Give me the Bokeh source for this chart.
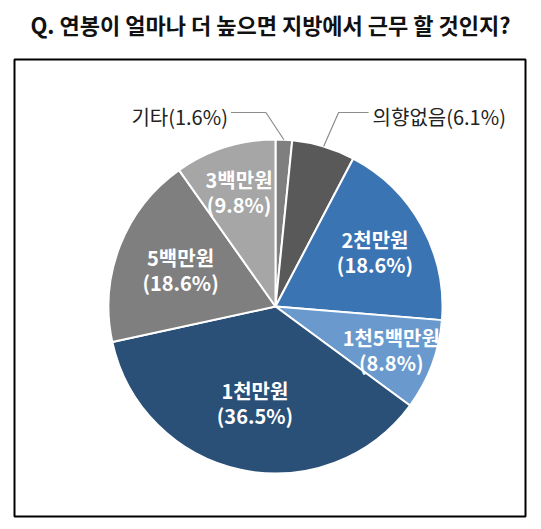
import numpy as np
from bokeh.plotting import figure
from bokeh.models import ColumnDataSource, Range1d
from bokeh.core.properties import value
from bokeh.embed import file_html
from bokeh.resources import INLINE

# data, clockwise from 12 o'clock
categories = ["기타", "의향없음", "2천만원", "1천5백만원", "1천만원", "5백만원", "3백만원"]
shares = [1.6, 6.1, 18.6, 8.8, 36.5, 18.6, 9.8]
colors = ["#7f7f7f", "#595959", "#3b74b3", "#6a9acd", "#2a5078", "#7f7f7f", "#a6a6a6"]
title_text = "Q. 연봉이 얼마나 더 높으면 지방에서 근무 할 것인지?"

W, H = 533, 521
FONT = value("Noto Sans CJK KR")


def Y(y):
    # page pixels (from top) to data units
    return H - y


p = figure(width=W, height=H, x_range=Range1d(0, W), y_range=Range1d(0, H),
           output_backend="svg", toolbar_location=None, min_border=0)
p.axis.visible = False
p.grid.visible = False
p.outline_line_color = None
p.background_fill_color = "white"

# frame around the pie
p.quad(left=14, right=525, bottom=Y(516), top=Y(59), fill_alpha=0,
       line_color="black", line_width=2)

# title
p.text(x=[270], y=[Y(23)], text=[title_text], text_font=FONT,
       text_font_size="22px", text_font_style="bold", text_color="#111111",
       text_align="center", text_baseline="middle")

# pie
cx, cy, r = 275, Y(306), 167
frac = np.array(shares) / sum(shares)
cum = np.concatenate([[0], np.cumsum(frac)])
start = np.pi / 2 - cum[:-1] * 2 * np.pi
end = np.pi / 2 - cum[1:] * 2 * np.pi
mid = (start + end) / 2

src = ColumnDataSource(dict(start=start, end=end, color=colors))
p.wedge(x=cx, y=cy, radius=r, start_angle="start", end_angle="end",
        direction="clock", fill_color="color", line_color="white",
        line_width=2, source=src)

# inside labels (slices 2..6)
label_r = [0, 0, 0.68, 0.74, 0.59, 0.61, 0.72]
lx, ly, line1, line2 = [], [], [], []
for i in range(2, len(categories)):
    lx.append(cx + label_r[i] * r * np.cos(mid[i]))
    ly.append(cy + label_r[i] * r * np.sin(mid[i]))
    line1.append(categories[i])
    line2.append(f"({shares[i]}%)")
p.text(x=lx, y=[v + 12.5 for v in ly], text=line1, text_font=FONT,
       text_font_size="20px", text_font_style="bold", text_color="white",
       text_align="center", text_baseline="middle")
p.text(x=lx, y=[v - 13 for v in ly], text=line2, text_font=FONT,
       text_font_size="20px", text_font_style="bold", text_color="white",
       text_align="center", text_baseline="middle")

# outside labels with leader lines
elbow_y = Y(112)
for i, dx, run in [(0, -18, -35), (1, 15, 30)]:
    ex = cx + r * np.cos(mid[i])
    ey = cy + r * np.sin(mid[i])
    bx = ex + dx
    tx = bx + run
    p.line(x=[ex, bx, tx], y=[ey, elbow_y, elbow_y], line_color="#8c8c8c",
           line_width=1.2)
    p.text(x=[tx + (-3 if run < 0 else 4)], y=[Y(116)],
           text=[f"{categories[i]}({shares[i]}%)"], text_font=FONT,
           text_font_size="20px", text_color="#222222",
           text_align="right" if run < 0 else "left", text_baseline="middle")

open("out.html", "w").write(file_html(p, INLINE))
